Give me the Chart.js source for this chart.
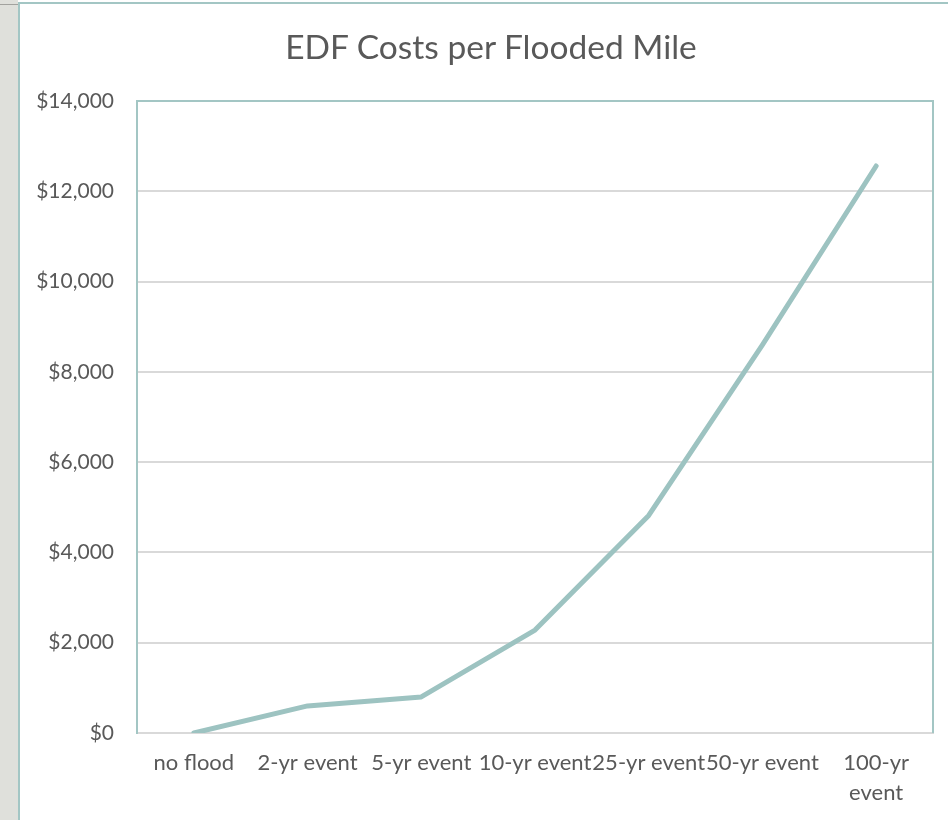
<!DOCTYPE html>
<html lang="en">
<head>
    <meta charset="UTF-8">
    <title>EDF Costs per Flooded Mile</title>
    <style>
        html, body { margin: 0; padding: 0; background: #fff; overflow: hidden; }
        .strip { position: absolute; left: 0; top: 0; width: 18px; height: 820px; background: #dfe0db; }
        .strip-line { position: absolute; left: 0; top: 4px; width: 18px; height: 1px; background: #a2a29e; }
        .frame { position: absolute; left: 18px; top: 2px; width: 960px; height: 830px;
                 border-left: 2px solid #a3c6c4; border-top: 2px solid #a3c6c4; background: #fff; }
        .title { position: absolute; left: 0; top: 26px; width: 982px; margin: 0; text-align: center;
                 font-family: Lato, sans-serif; font-size: 33.5px; font-weight: normal;
                 line-height: 40px; color: #595959; }
        canvas { display: block; }
    </style>
</head>
<body>
    <div class="strip"><div class="strip-line"></div></div>
    <div class="frame">
        <canvas id="myChart" width="942" height="816"></canvas>
    </div>
    <h2 class="title">EDF Costs per Flooded Mile</h2>

    <script src="https://cdn.jsdelivr.net/npm/chart.js"></script>
    <script>
        // data
        const categories = ['no flood', '2-yr event', '5-yr event', '10-yr event', '25-yr event', '50-yr event', ['100-yr', 'event']];
        const costs = [0, 600, 800, 2280, 4820, 8600, 12560];
        const yTicks = [0, 2000, 4000, 6000, 8000, 10000, 12000, 14000];

        const textColor = '#595959';
        const lineColor = '#9dc3c1';

        // teal frame on top and right of the plot area
        const plotFrame = {
            id: 'plotFrame',
            afterDraw(chart) {
                const a = chart.chartArea;
                const c = chart.ctx;
                c.save();
                c.strokeStyle = '#a3c6c4';
                c.lineWidth = 2;
                c.beginPath();
                c.moveTo(a.left, a.top);
                c.lineTo(a.right, a.top);
                c.lineTo(a.right, a.bottom);
                c.stroke();
                c.restore();
            }
        };

        new Chart(document.getElementById('myChart'), {
            type: 'line',
            data: {
                labels: categories,
                datasets: [{
                    label: 'EDF Costs',
                    data: costs,
                    borderColor: lineColor,
                    borderWidth: 5,
                    borderCapStyle: 'round',
                    borderJoinStyle: 'round',
                    pointRadius: 0,
                    tension: 0
                }]
            },
            options: {
                responsive: false,
                devicePixelRatio: 1,
                animation: false,
                layout: { padding: { left: 0, right: 29, top: 97, bottom: 0 } },
                plugins: {
                    legend: { display: false },
                    tooltip: { enabled: false },
                    title: { display: false }
                },
                scales: {
                    x: {
                        offset: true,
                        grid: { display: false, drawTicks: false },
                        border: { display: true, color: '#d9d9d9', width: 2 },
                        ticks: {
                            color: textColor,
                            font: { family: 'Lato', size: 22, lineHeight: 1.35 },
                            padding: 15,
                            maxRotation: 0,
                            autoSkip: false
                        },
                        afterFit(scale) { scale.height = 87; }
                    },
                    y: {
                        min: 0,
                        max: 14000,
                        afterBuildTicks(scale) { scale.ticks = yTicks.map(v => ({ value: v })); },
                        grid: { color: '#d9d9d9', lineWidth: 2, drawTicks: false },
                        border: { display: true, color: '#a3c6c4', width: 2 },
                        ticks: {
                            color: textColor,
                            font: { family: 'Lato', size: 21 },
                            padding: 23,
                            callback: v => '$' + v.toLocaleString('en-US')
                        },
                        afterFit(scale) { scale.width = 117; }
                    }
                }
            },
            plugins: [plotFrame]
        });
    </script>
</body>
</html>
